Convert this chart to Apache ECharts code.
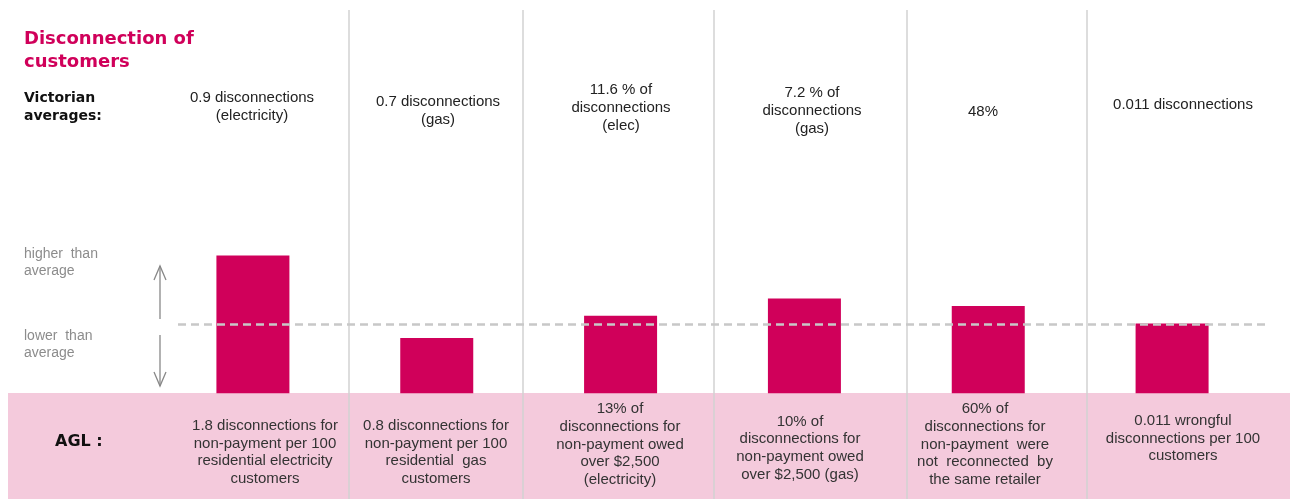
<!DOCTYPE html>
<html>
<head>
<meta charset="utf-8">
<script src="https://cdn.jsdelivr.net/npm/echarts@6/dist/echarts.min.js"></script>
<style>
html,body{margin:0;padding:0;background:#fff;}
#chart{width:1290px;height:499px;}
</style>
</head>
<body>
<div id="chart"></div>
<script>
// ---- data ----
const categories = ['Elec disconnections', 'Gas disconnections', 'Elec >$2,500', 'Gas >$2,500', 'Not reconnected', 'Wrongful'];
// AGL relative to Victorian average (1 = average)
const relativeValues = [1.99, 0.80, 1.12, 1.37, 1.26, 1.01];
const averageLevel = 1;
const victorianLabels = [
  '0.9 disconnections\n(electricity)',
  '0.7 disconnections\n(gas)',
  '11.6 % of\ndisconnections\n(elec)',
  '7.2 % of\ndisconnections\n(gas)',
  '48%',
  '0.011 disconnections'
];
const aglLabels = [
  '1.8 disconnections for\nnon-payment per 100\nresidential electricity\ncustomers',
  '0.8 disconnections for\nnon-payment per 100\nresidential  gas\ncustomers',
  '13% of\ndisconnections for\nnon-payment owed\nover $2,500\n(electricity)',
  '10% of\ndisconnections for\nnon-payment owed\nover $2,500 (gas)',
  '60% of\ndisconnections for\nnon-payment  were\nnot  reconnected  by\nthe same retailer',
  '0.011 wrongful\ndisconnections per 100\ncustomers'
];

// ---- layout (pixels) ----
const topTextX = [252, 438, 621, 812, 983, 1183];
const topTextY = [107, 111, 107.5, 110.5, 112, 105];
const botTextX = [265, 436, 620, 800, 985, 1183];
const botTextY = [452.5, 452.5, 444.5, 448, 444.5, 438.5];
const dividerX = [349, 523, 714, 907, 1087];

const BAR = '#d0005a';
const graphics = [];
graphics.push({type:'rect', z:0, shape:{x:8, y:393, width:1282, height:106}, style:{fill:'#f4cadc'}});
dividerX.forEach(x => graphics.push({type:'line', z:1, shape:{x1:x, y1:10, x2:x, y2:499}, style:{stroke:'#d2d2d2', lineWidth:1.5}}));
graphics.push({type:'text', z:10, left:24, top:28, style:{text:'Disconnection of\ncustomers', font:'bold 18px "DejaVu Sans"', fill:BAR, lineHeight:23}});
graphics.push({type:'text', z:10, left:24, top:89, style:{text:'Victorian\naverages:', font:'bold 14px "DejaVu Sans"', fill:'#111', lineHeight:18}});
graphics.push({type:'text', z:10, left:24, top:246, style:{text:'higher  than\naverage', font:'14px "Liberation Sans"', fill:'#8c8c8c', lineHeight:17}});
graphics.push({type:'text', z:10, left:24, top:328, style:{text:'lower  than\naverage', font:'14px "Liberation Sans"', fill:'#8c8c8c', lineHeight:17}});
graphics.push({type:'text', z:10, left:55, top:434, style:{text:'AGL :', font:'bold 16px "DejaVu Sans"', fill:'#111'}});
// arrows
graphics.push({type:'line', z:5, shape:{x1:160, y1:266, x2:160, y2:319}, style:{stroke:'#888', lineWidth:1.3}});
graphics.push({type:'polyline', z:5, shape:{points:[[154,280],[160,266],[166,280]]}, style:{stroke:'#888', lineWidth:1.3, fill:null}});
graphics.push({type:'line', z:5, shape:{x1:160, y1:335, x2:160, y2:386}, style:{stroke:'#888', lineWidth:1.3}});
graphics.push({type:'polyline', z:5, shape:{points:[[154,372],[160,386],[166,372]]}, style:{stroke:'#888', lineWidth:1.3, fill:null}});
victorianLabels.forEach((t, i) => graphics.push({type:'text', z:10, x:topTextX[i], y:topTextY[i],
  style:{text:t, font:'15px "Liberation Sans"', fill:'#222', textAlign:'center', textVerticalAlign:'middle', lineHeight:18}}));
aglLabels.forEach((t, i) => graphics.push({type:'text', z:10, x:botTextX[i], y:botTextY[i],
  style:{text:t, font:'15px "Liberation Sans"', fill:'#333', textAlign:'center', textVerticalAlign:'middle', lineHeight:17.7}}));

const chart = echarts.init(document.getElementById('chart'));
chart.setOption({
  animation:false,
  grid:{left:161, right:26, top:220.3, bottom:105.7},
  xAxis:{type:'category', data:categories, show:false},
  yAxis:{type:'value', min:0, max:2.5, show:false},
  graphic: graphics,
  series:[{
    type:'bar', data:relativeValues, barWidth:73, z:3,
    itemStyle:{color:BAR},
    markLine:{
      silent:true, symbol:'none', z:4,
      label:{show:false},
      lineStyle:{color:'#c8c8c8', type:[8,5], width:2.5},
      data:[[{x:178, yAxis:averageLevel}, {x:1266, yAxis:averageLevel}]]
    }
  }]
});
</script>
</body>
</html>
